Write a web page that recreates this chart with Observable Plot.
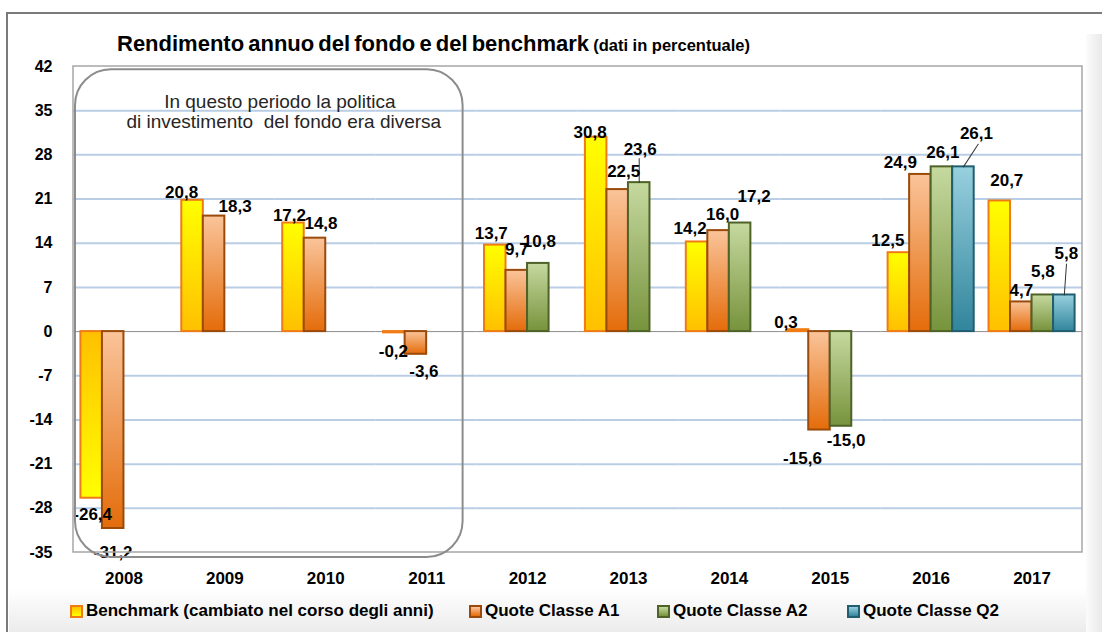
<!DOCTYPE html>
<html><head><meta charset="utf-8">
<script src="https://cdn.jsdelivr.net/npm/d3@7"></script>
<script src="https://cdn.jsdelivr.net/npm/@observablehq/plot@0.6"></script>
<style>
body{margin:0;background:#fff;font-family:"Liberation Sans",Arial,sans-serif;}
#page{position:relative;width:1102px;height:632px;overflow:hidden;background:#fff;}
#border{position:absolute;left:6px;top:12px;right:-10px;bottom:-10px;border-top:2.5px solid #7a7a7a;border-left:2.5px solid #7a7a7a;}
#shadeR{position:absolute;left:1086px;top:34px;width:16px;bottom:0;background:linear-gradient(to right,#fbfbfb,#e9e9e9);}
#shadeB{position:absolute;left:9px;right:0;top:588px;bottom:0;background:linear-gradient(to bottom,#ffffff,#ececec);}
#title{position:absolute;left:117px;top:33px;line-height:21px;font-size:22px;font-weight:bold;color:#000;word-spacing:-2px;white-space:nowrap;}
#title span{font-size:16.5px;word-spacing:0;}
#chart{position:absolute;left:0;top:56px;}
#legend{position:absolute;left:0;top:600px;width:1102px;height:22px;}
.li{position:absolute;top:0;display:flex;align-items:center;font-size:17px;font-weight:bold;color:#000;white-space:nowrap;height:22px;}
.sw{width:9px;height:9px;border:2px solid;margin-right:3px;}
</style></head><body>
<div id="page">
  <div id="shadeB"></div>
  <div id="shadeR"></div>
  <div id="border"></div>
  <div id="title">Rendimento annuo del fondo e del benchmark <span>(dati in percentuale)</span></div>
  <div id="chart"></div>
  <div id="legend"></div>
</div>
<script>
// ---------- data ----------
const years = ["2008","2009","2010","2011","2012","2013","2014","2015","2016","2017"];
const seriesKeys = ["B","A1","A2","Q2"];
const seriesNames = ["Benchmark (cambiato nel corso degli anni)","Quote Classe A1","Quote Classe A2","Quote Classe Q2"];
const benchmark = [-26.4, 20.8, 17.2, -0.2, 13.7, 30.8, 14.2, 0.3, 12.5, 20.7];
const classeA1  = [-31.2, 18.3, 14.8, -3.6, 9.7, 22.5, 16.0, -15.6, 24.9, 4.7];
const classeA2  = [null, null, null, null, 10.8, 23.6, 17.2, -15.0, 26.1, 5.8];
const classeQ2  = [null, null, null, null, null, null, null, null, 26.1, 5.8];
const yTicks = [42, 35, 28, 21, 14, 7, 0, -7, -14, -21, -28, -35];
const noteLines = ["In questo periodo la politica", "di investimento  del fondo era diversa"];

// ---------- styling ----------
const seriesValues = [benchmark, classeA1, classeA2, classeQ2];
const rows = [];
seriesKeys.forEach((k, si) => years.forEach((yr, i) => {
  const v = seriesValues[si][i];
  if (v != null) rows.push({year: yr, key: k, value: v});
}));
const stroke = {B: "#F07B14", A1: "#9A4A0A", A2: "#4F6228", Q2: "#215E70"};
const grads = {
  gB:  ["#FFFF00", "#FFC000"],
  gBn: ["#FFC000", "#FFFF00"],
  gA1: ["#FAC49A", "#E46C0A"],
  gA2: ["#C6D9A0", "#77933C"],
  gQ2: ["#98D0DF", "#31859C"]
};
// label nudges (pixels) relative to the default outside-end position
const nudge = {
  "2008-B":[1,5], "2008-A1":[0,13],
  "2009-B":[-11,3], "2009-A1":[21,1],
  "2010-B":[-4,4], "2010-A1":[6,-4],
  "2011-B":[-1,8], "2011-A1":[8,6],
  "2012-B":[-4,-1], "2012-A1":[0,-10], "2012-A2":[1,-11],
  "2013-B":[-6,6], "2013-A1":[6,-7], "2013-A2":[1,-22],
  "2014-B":[-7,-2], "2014-A1":[4,-5], "2014-A2":[14,-15],
  "2015-B":[-12,4], "2015-A1":[-17,17], "2015-A2":[5,3],
  "2016-B":[-11,-1], "2016-A1":[-20,-1], "2016-A2":[1,-3], "2016-Q2":[13,-22],
  "2017-B":[7,-9], "2017-A1":[0,0], "2017-A2":[0,-12], "2017-Q2":[2,-30]
};
const leaders = {"2013-A2":[24,0], "2016-Q2":[27,33], "2017-Q2":[31,4]};
const fmt = v => d3.format(".1f")(v).replace(".", ",").replace("\u2212", "-");
const FONT = '"Liberation Sans", Arial, sans-serif';

const lineShape = {draw(ctx, l) { ctx.moveTo(0, 0); ctx.lineTo(0, -l); }};

const barMarks = [
  Plot.barY(rows.filter(d => d.key === "B" && d.value >= 0), {fx: "year", x: "key", y: "value", fill: "url(#gB)", stroke: stroke.B, strokeWidth: 2}),
  Plot.barY(rows.filter(d => d.key === "B" && d.value < 0), {fx: "year", x: "key", y: "value", fill: "url(#gBn)", stroke: stroke.B, strokeWidth: 2}),
  ...["A1","A2","Q2"].map(k => Plot.barY(rows.filter(d => d.key === k), {fx: "year", x: "key", y: "value", fill: `url(#g${k})`, stroke: stroke[k], strokeWidth: 2}))
];
const leaderMarks = rows.filter(d => leaders[d.year + "-" + d.key]).map(d => {
  const [len, rot] = leaders[d.year + "-" + d.key];
  return Plot.vector([d], {fx: "year", x: "key", y: "value", length: len, rotate: rot, anchor: "start", shape: lineShape, stroke: "#333", strokeWidth: 1});
});
const labelMarks = rows.map(d => {
  const [ndx, ndy] = nudge[d.year + "-" + d.key] || [0, 0];
  return Plot.text([d], {fx: "year", x: "key", y: "value", text: r => fmt(r.value),
    lineAnchor: "middle", dx: ndx, dy: (d.value >= 0 ? -11 : 11) + ndy,
    fontSize: 17, fontWeight: "bold", fill: "#000"});
});

const plot = Plot.plot({
  width: 1102, height: 536,
  marginLeft: 73, marginRight: 20, marginTop: 10, marginBottom: 40,
  style: {fontFamily: FONT, background: "transparent", overflow: "visible"},
  fx: {domain: years, padding: 0, round: false, label: null},
  x: {domain: seriesKeys, paddingInner: 0, paddingOuter: 0.344, round: false, axis: null},
  y: {domain: [-35, 42], label: null},
  marks: [
    Plot.gridY(yTicks.filter(t => t !== 42 && t !== -35 && t !== 0), {stroke: "#B9CDE5", strokeOpacity: 1, strokeWidth: 2}),
    Plot.ruleY([0], {stroke: "#8C8C8C", strokeWidth: 1}),
    ...barMarks,
    ...leaderMarks,
    ...labelMarks,
    Plot.axisY(yTicks, {tickSize: 0, tickPadding: 21, fontSize: 16, fontWeight: "bold", label: null, tickFormat: d => String(d)}),
    Plot.axisFx({anchor: "bottom", tickSize: 0, tickPadding: 19, fontSize: 17, fontWeight: "bold", label: null})
  ]
});
document.getElementById("chart").appendChild(plot);

// gradients + frame + note box (annotation drawn with the plot's own scales)
const svg = d3.select(plot);
const defs = svg.insert("defs", ":first-child");
Object.entries(grads).forEach(([id, [c0, c1]]) => {
  const g = defs.append("linearGradient").attr("id", id).attr("x1", 0).attr("y1", 0).attr("x2", 0).attr("y2", 1);
  g.append("stop").attr("offset", "0%").attr("stop-color", c0);
  g.append("stop").attr("offset", "100%").attr("stop-color", c1);
});
const fxS = plot.scale("fx"), yS = plot.scale("y");
const x0 = fxS.range[0], x1 = fxS.range[1];
svg.append("rect").attr("x", x0).attr("y", yS.apply(42)).attr("width", x1 - x0)
  .attr("height", yS.apply(-35) - yS.apply(42)).attr("fill", "none").attr("stroke", "#A6A6A6").attr("stroke-width", 1.5);
const bx0 = fxS.apply("2008") + 2, bx1 = fxS.apply("2011") + fxS.bandwidth - 14;
const by0 = yS.apply(41.5), by1 = yS.apply(-35.8);
svg.append("rect").attr("x", bx0).attr("y", by0).attr("width", bx1 - bx0).attr("height", by1 - by0)
  .attr("rx", 36).attr("ry", 36).attr("fill", "none").attr("stroke", "#8C8C8C").attr("stroke-width", 2);
const tx = (bx0 + bx1) / 2 + 11;
noteLines.forEach((t, i) => {
  svg.append("text").attr("x", tx + i * 4).attr("y", yS.apply(35) - 2 + i * 20).attr("text-anchor", "middle")
    .attr("font-family", FONT).attr("font-size", 19).attr("fill", "#262626").attr("xml:space", "preserve").style("white-space", "pre").text(t);
});

// legend
const legendLeft = [70, 469, 657, 847];
const swatch = [["#FFC000","#FFFF00"], grads.gA1, grads.gA2, grads.gQ2];
const lg = document.getElementById("legend");
seriesKeys.forEach((k, i) => {
  const it = document.createElement("div");
  it.className = "li"; it.style.left = legendLeft[i] + "px";
  const sw = document.createElement("div");
  sw.className = "sw"; sw.style.borderColor = stroke[k];
  sw.style.background = `linear-gradient(to bottom, ${swatch[i][0]}, ${swatch[i][1]})`;
  it.appendChild(sw);
  it.appendChild(document.createTextNode(seriesNames[i]));
  lg.appendChild(it);
});
</script>
</body></html>
